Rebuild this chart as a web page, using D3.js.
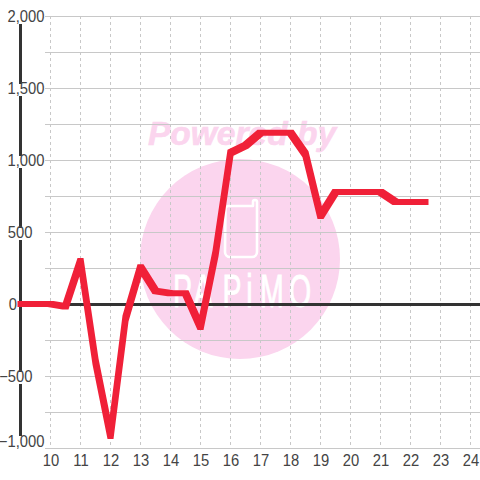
<!DOCTYPE html>
<html><head><meta charset="utf-8">
<style>html,body{margin:0;padding:0;background:#fff}svg{display:block}</style>
<script src="https://cdn.jsdelivr.net/npm/d3@7"></script></head><body>
<svg id="c" width="480" height="480"></svg>
<script>
const hours=[9,9.5,10,10.5,11,11.5,12,12.5,13,13.5,14,14.5,15,15.5,16,16.5,17,17.5,18,18.5,19,19.5,20,20.5,21,21.5,22,22.5];
const values=[0,0,0,-18,298,-400,-917,-100,255,90,75,75,-160,350,1050,1100,1190,1190,1190,1040,611,778,778,778,778,708,708,708];
const xTicks=[10,11,12,13,14,15,16,17,18,19,20,21,22,23,24];
const yMajor=[2000,1500,1000,500,0,-500,-1000];
const yMinor=[1750,1250,750,250,-250,-750];
const logoLetters=["P","A","P","i","M","O"];
const logoCenters=[182.5,203,232,249.5,272,300];
const x=d3.scaleLinear().domain([10,24]).range([50.5,470.5]);
const y=d3.scaleLinear().domain([-1000,2000]).range([448,16]);
const svg=d3.select("#c");
const font="'Liberation Sans',Arial,sans-serif";
const pink="#fbd5ee";
// watermark
const wm=svg.append("g");
wm.append("text").attr("x",242).attr("y",145).attr("text-anchor","middle").attr("font-family",font)
 .attr("font-size",33.5).attr("font-weight","bold").attr("font-style","italic").attr("fill",pink).attr("stroke",pink).attr("stroke-width",.6).text("Powered by");
wm.append("circle").attr("cx",240).attr("cy",259).attr("r",100).attr("fill",pink);
wm.append("path").attr("d","M225.5 209a3 3 0 0 1 3-3H253V202a2 2 0 0 1 4 0V252a5 5 0 0 1-5 5H230a5 5 0 0 1-5-5Z")
 .attr("fill","none").attr("stroke","#fff").attr("stroke-width",2.6).attr("stroke-linejoin","round");
wm.append("g").selectAll("text").data(logoLetters).join("text")
 .attr("transform",(d,i)=>`translate(${logoCenters[i]},307) scale(.62,1)`)
 .attr("text-anchor","middle").attr("font-family",font).attr("font-size",46).attr("fill","#fff").attr("stroke","#fff").attr("stroke-width",.9).text(d=>d);
// grid
const grid=svg.append("g");
grid.selectAll(".h").data(yMajor.concat(yMinor)).join("line").attr("x1",45).attr("x2",480)
 .attr("y1",d=>y(d)+.5).attr("y2",d=>y(d)+.5).attr("stroke","#c8c8c8").attr("stroke-width",1);
grid.selectAll(".v").data(xTicks).join("line").attr("x1",d=>x(d)).attr("x2",d=>x(d)).attr("y1",16).attr("y2",448)
 .attr("stroke","#c8c8c8").attr("stroke-dasharray","3 3");
// axes lines
svg.append("line").attr("x1",20.5).attr("x2",20.5).attr("y1",y(2000)).attr("y2",y(-1000)).attr("stroke","#333").attr("stroke-width",3);
svg.append("line").attr("x1",20).attr("x2",480).attr("y1",y(0)+.5).attr("y2",y(0)+.5).attr("stroke","#333").attr("stroke-width",3);
// labels (slightly condensed, as in the reference)
const fmt=d3.format(",");
const sx=.925;
const lab=svg.append("g").selectAll("g").data(yMajor).join("g");
lab.append("rect").attr("x",2).attr("y",d=>d===-1000?y(d)-12:y(d)-4).attr("width",d=>d===0?15:42).attr("height",12).attr("fill","#fff");
lab.append("text").attr("transform",d=>`translate(${d===0?17:(Math.abs(d)===500?32.5:44.5)},${d===-1000?447:y(d)+6}) scale(${sx},1)`)
 .attr("text-anchor","end").attr("font-family",font).attr("font-size",16).attr("fill","#444").text(fmt);
svg.append("g").selectAll("text").data(xTicks).join("text").attr("transform",d=>`translate(${x(d)+.5},466) scale(${sx},1)`).attr("text-anchor","middle")
 .attr("font-family",font).attr("font-size",16).attr("fill","#444").text(d=>d);
// line drawn with a 6px square pen: each segment is the hull of two squares
const pen=3;
const pts=values.map((v,i)=>[x(hours[i]),y(v)]);
const corners=p=>[[p[0]-pen,p[1]-pen],[p[0]+pen,p[1]-pen],[p[0]+pen,p[1]+pen],[p[0]-pen,p[1]+pen]];
const segs=d3.pairs(pts).map(([a,b])=>d3.polygonHull(corners(a).concat(corners(b))));
svg.append("path").attr("fill","#f02038")
 .attr("d",segs.map(h=>"M"+h.map(p=>p.join(",")).join("L")+"Z").join(""));
</script></body></html>
